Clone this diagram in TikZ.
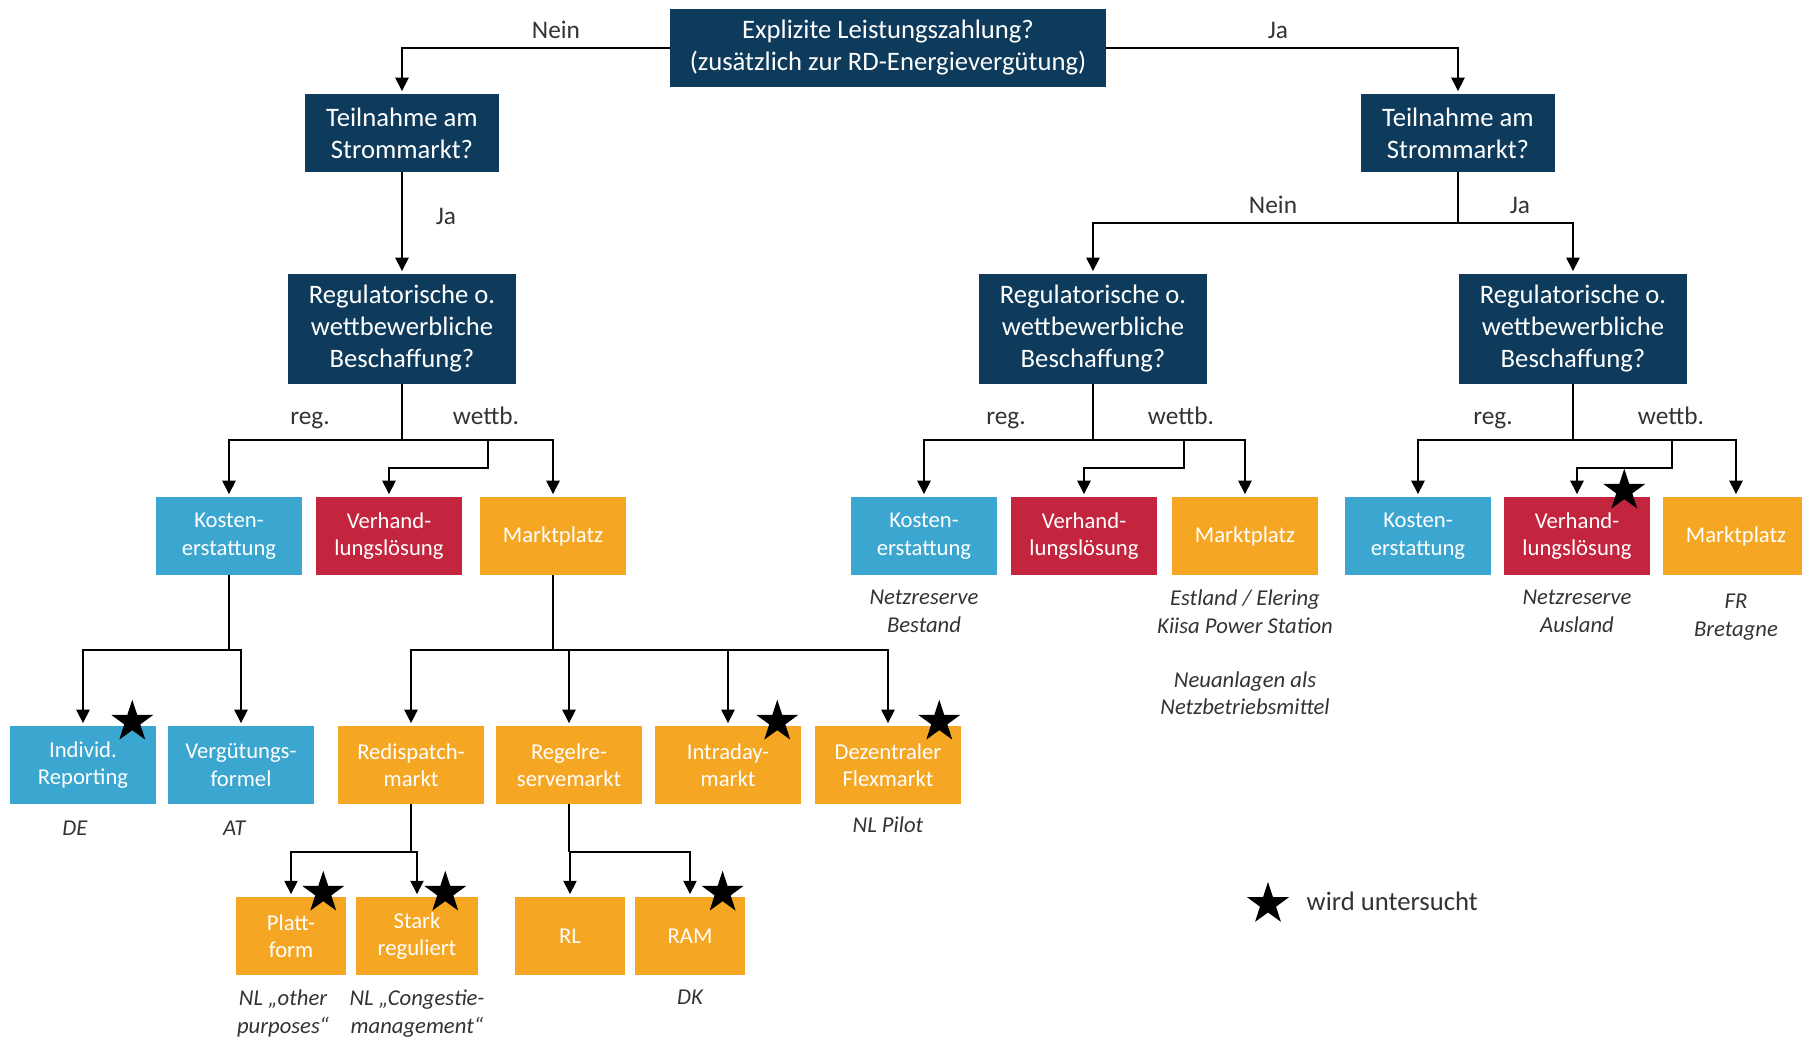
\documentclass[tikz,border=0pt]{standalone}
\usepackage{fontspec}
\setmainfont{Carlito}
\usetikzlibrary{arrows.meta, positioning, shapes.geometric}
\definecolor{rdnavy}{HTML}{0E3A5B}
\definecolor{rdblue}{HTML}{3BA6CF}
\definecolor{rdred}{HTML}{C3253F}
\definecolor{rdorange}{HTML}{F5A623}
\definecolor{rdgray}{HTML}{333333}

\begin{document}
\begin{tikzpicture}[x=0.75pt, y=-0.75pt,
    kasten/.style={rectangle, inner sep=2pt, align=center, text=white, font=\fontsize{17}{20.5}\selectfont,
        minimum width=109.5pt, minimum height=58.5pt},
    frage/.style={kasten, fill=rdnavy, font=\fontsize{20}{24}\selectfont},
    kosten/.style={kasten, fill=rdblue},
    verhand/.style={kasten, fill=rdred},
    markt/.style={kasten, fill=rdorange},
    notiz/.style={align=center, inner sep=1pt, text=rdgray, font=\fontsize{17}{20.7}\selectfont\itshape},
    zweig/.style={text=rdgray, font=\fontsize{19}{23}\selectfont, text height=0.75em, text depth=0.25em, yshift=-4pt},
    kante/.style={draw=black, line width=1.1pt},
    pfeil/.style={kante, -{Triangle[width=10pt,length=10pt]}, shorten >=2pt},
    stern/.style={star, star points=5, star point ratio=2.6, fill=black, inner sep=0pt, minimum size=33pt}]
    \useasboundingbox (0,0) rectangle (1802,1040);

    % Fragen
    \node[frage, minimum width=327pt] (top) at (888,48) {Explizite Leistungszahlung?\\(zusätzlich zur RD-Energievergütung)};
    \node[frage, minimum width=145pt] (tl) at (402,133) {Teilnahme am\\Strommarkt?};
    \node[frage, minimum width=145pt] (tr) at (1458,133) {Teilnahme am\\Strommarkt?};
    \node[frage, minimum width=171pt, minimum height=82.5pt] (regl) at (402,329) {Regulatorische o.\\wettbewerbliche\\Beschaffung?};
    \node[frage, minimum width=171pt, minimum height=82.5pt] (regm) at (1093,329) {Regulatorische o.\\wettbewerbliche\\Beschaffung?};
    \node[frage, minimum width=171pt, minimum height=82.5pt] (regr) at (1573,329) {Regulatorische o.\\wettbewerbliche\\Beschaffung?};

    % Ebene 1
    \node[kosten] (lk) at (229,536) {Kosten-\\erstattung};
    \node[verhand] (lv) at (389,536) {Verhand-\\lungslösung};
    \node[markt] (lm) at (553,536) {Marktplatz};
    \node[kosten] (mk) at (924,536) {Kosten-\\erstattung};
    \node[verhand] (mv) at (1084,536) {Verhand-\\lungslösung};
    \node[markt] (mm) at (1245,536) {Marktplatz};
    \node[kosten] (rk) at (1418,536) {Kosten-\\erstattung};
    \node[verhand] (rv) at (1577,536) {Verhand-\\lungslösung};
    \node[markt] (rm) at (1736,536) {Marktplatz};

    % Ebene 2
    \node[kosten] (ir) at (83,765) {Individ.\\Reporting};
    \node[kosten] (vf) at (241,765) {Vergütungs-\\formel};
    \node[markt] (rd) at (411,765) {Redispatch-\\markt};
    \node[markt] (rs) at (569,765) {Regelre-\\servemarkt};
    \node[markt] (id) at (728,765) {Intraday-\\markt};
    \node[markt] (dz) at (888,765) {Dezentraler\\Flexmarkt};

    % Ebene 3
    \node[markt, minimum width=82.5pt] (pf) at (291,936) {Platt-\\form};
    \node[markt, minimum width=91.5pt] (sr) at (417,936) {Stark\\reguliert};
    \node[markt, minimum width=82pt] (rl) at (570,936) {RL};
    \node[markt, minimum width=83pt] (ram) at (690,936) {RAM};

    % Beispiele
    \node[notiz, below=10pt of mk] (n-mk) {Netzreserve\\Bestand};
    \node[notiz, below=10pt of mm] (n-mm) {Estland / Elering\\Kiisa Power Station};
    \node[notiz, below=26pt of n-mm] (n-mm2) {Neuanlagen als\\Netzbetriebsmittel};
    \node[notiz, below=10pt of rv] (n-rv) {Netzreserve\\Ausland};
    \node[notiz, below=13pt of rm] (n-rm) {FR\\Bretagne};
    \node[notiz, below=11pt of ir, xshift=-6pt] (n-ir) {DE};
    \node[notiz, below=11pt of vf, xshift=-5pt] (n-vf) {AT};
    \node[notiz, below=8pt of dz] (n-dz) {NL Pilot};
    \node[notiz, below=10pt of pf, xshift=-6pt] (n-pf) {NL „other\\purposes“};
    \node[notiz, below=10pt of sr] (n-sr) {NL „Congestie-\\management“};
    \node[notiz, below=10pt of ram] (n-ram) {DK};

    % Zweige
    \node[zweig] (top-nein) at (556,30) {Nein};
    \node[zweig] (top-ja) at (1278,30) {Ja};
    \node[zweig] (tl-ja) at (446,216) {Ja};
    \node[zweig] (tr-nein) at (1273,205) {Nein};
    \node[zweig] (tr-ja) at (1520,205) {Ja};
    \node[zweig] (regl-reg) at (310,416) {reg.};
    \node[zweig] (regl-wb) at (486,416) {wettb.};
    \node[zweig] (regm-reg) at (1006,416) {reg.};
    \node[zweig] (regm-wb) at (1181,416) {wettb.};
    \node[zweig] (regr-reg) at (1493,416) {reg.};
    \node[zweig] (regr-wb) at (1671,416) {wettb.};

    % Verbindungen
    \draw[pfeil] (top.west) -| (tl);
    \draw[pfeil] (top.east) -| (tr);
    \draw[pfeil] (tl) -- (regl);
    \coordinate (tr-ab) at (1458,223);
    \draw[kante] (tr) -- (tr-ab);
    \draw[pfeil] (tr-ab) -| (regm);
    \draw[pfeil] (tr-ab) -| (regr);

    \coordinate (regl-ab) at (402,440);
    \coordinate (regl-abw) at (488,440);
    \draw[kante] (regl) -- (regl-ab);
    \draw[pfeil] (regl-ab) -| (lk);
    \draw[pfeil] (regl-ab) -| (lm);
    \draw[pfeil] (regl-abw) -- ++(0,28) -| (lv);

    \coordinate (regm-ab) at (1093,440);
    \coordinate (regm-abw) at (1184,440);
    \draw[kante] (regm) -- (regm-ab);
    \draw[pfeil] (regm-ab) -| (mk);
    \draw[pfeil] (regm-ab) -| (mm);
    \draw[pfeil] (regm-abw) -- ++(0,28) -| (mv);

    \coordinate (regr-ab) at (1573,440);
    \coordinate (regr-abw) at (1672,440);
    \draw[kante] (regr) -- (regr-ab);
    \draw[pfeil] (regr-ab) -| (rk);
    \draw[pfeil] (regr-ab) -| (rm);
    \draw[pfeil] (regr-abw) -- ++(0,28) -| (rv);

    \coordinate (lk-ab) at (229,650);
    \draw[kante] (lk) -- (lk-ab);
    \foreach \n in {ir,vf} \draw[pfeil] (lk-ab) -| (\n);
    \coordinate (lm-ab) at (553,650);
    \draw[kante] (lm) -- (lm-ab);
    \foreach \n in {rd,rs,id,dz} \draw[pfeil] (lm-ab) -| (\n);

    \coordinate (rd-ab) at (411,852);
    \draw[kante] (rd) -- (rd-ab);
    \foreach \n in {pf,sr} \draw[pfeil] (rd-ab) -| (\n);
    \coordinate (rs-ab) at (569,852);
    \draw[kante] (rs) -- (rs-ab);
    \foreach \n in {rl,ram} \draw[pfeil] (rs-ab) -| (\n);

    % Sterne
    \node[stern] (s-ir) at ([shift={(-24,-4)}]ir.north east) {};
    \node[stern] (s-id) at ([shift={(-24,-4)}]id.north east) {};
    \node[stern] (s-dz) at ([shift={(-22,-4)}]dz.north east) {};
    \node[stern] (s-pf) at ([shift={(-23,-4)}]pf.north east) {};
    \node[stern] (s-sr) at ([shift={(-33,-4)}]sr.north east) {};
    \node[stern] (s-ram) at ([shift={(-23,-4)}]ram.north east) {};
    \node[stern] (s-rv) at ([shift={(-26,-6)}]rv.north east) {};

    % Legende
    \node[stern] (s-leg) at (1268,904) {};
    \node[zweig, anchor=west, font=\fontsize{20}{24}\selectfont] (leg) at (1302,902) {wird untersucht};
\end{tikzpicture}
\end{document}
